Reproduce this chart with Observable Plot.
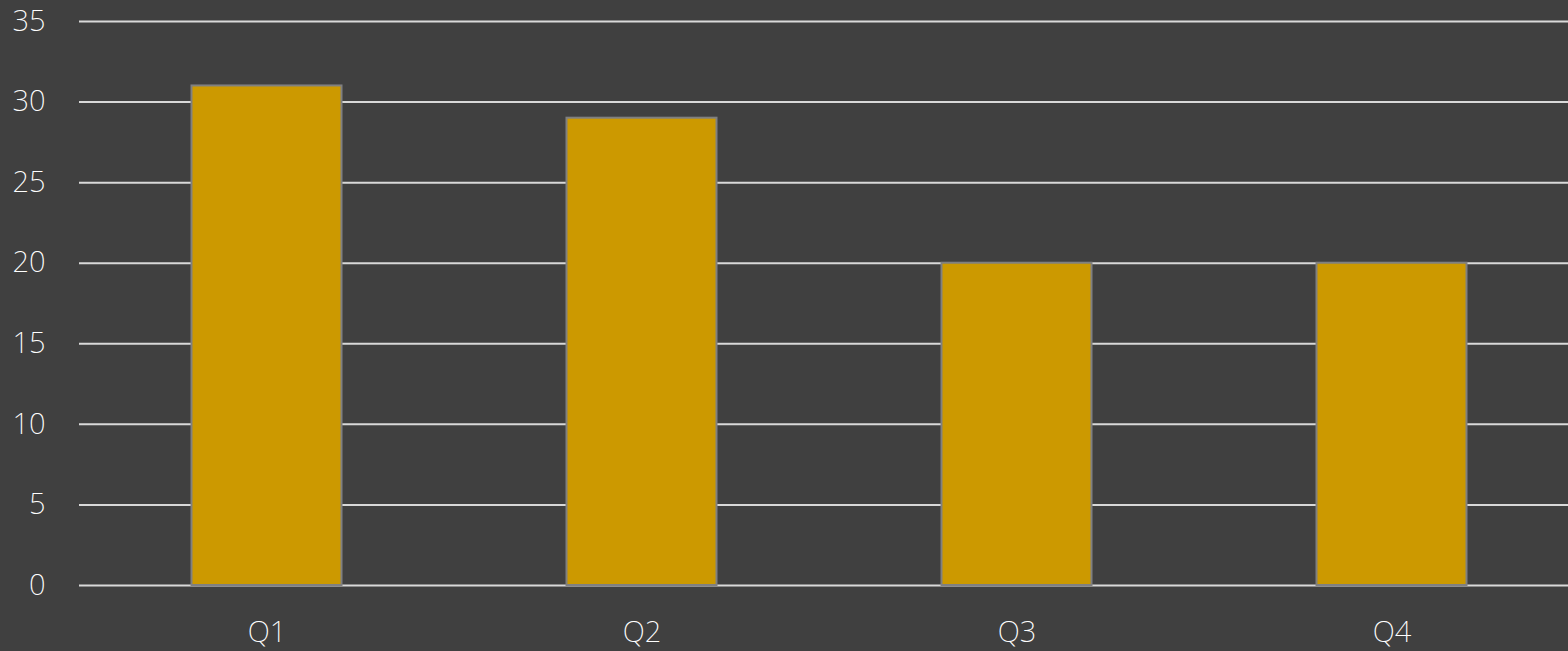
<!DOCTYPE html>
<html>
<head>
<meta charset="utf-8">
<script src="https://cdn.jsdelivr.net/npm/d3@7"></script>
<script src="https://cdn.jsdelivr.net/npm/@observablehq/plot@0.6"></script>
<style>
  html, body { margin: 0; padding: 0; background: #404040; }
  #chart svg { display: block; }
</style>
</head>
<body>
<div id="chart"></div>
<script>
const categories = ["Q1", "Q2", "Q3", "Q4"];
const values = [31, 29, 20, 20];
const yTicks = [0, 5, 10, 15, 20, 25, 30, 35];

const data = categories.map((c, i) => ({category: c, value: values[i]}));

const chart = Plot.plot({
  width: 1568,
  height: 651,
  marginLeft: 79,
  marginRight: 0,
  marginTop: 21,
  marginBottom: 66,
  style: {
    background: "#404040",
    color: "#ffffff",
    fontFamily: "'Noto Sans', 'Open Sans', sans-serif",
    fontWeight: 200,
    fontSize: "29px"
  },
  x: {domain: categories, range: [79, 1579], paddingInner: 0.6, paddingOuter: 0.3, round: false, label: null},
  y: {domain: [0, 35], ticks: yTicks, label: null},
  marks: [
    Plot.ruleY(yTicks, {stroke: "#d9d9d9", strokeWidth: 2}),
    Plot.barY(data, {x: "category", y: "value", fill: "#cc9900", stroke: "#808080", strokeWidth: 2}),
    Plot.axisY({ticks: yTicks, tickSize: 0, tickPadding: 34, fontSize: 29, label: null}),
    Plot.axisX({tickSize: 0, tickPadding: 36, fontSize: 29, label: null})
  ]
});
document.getElementById("chart").appendChild(chart);
</script>
</body>
</html>
